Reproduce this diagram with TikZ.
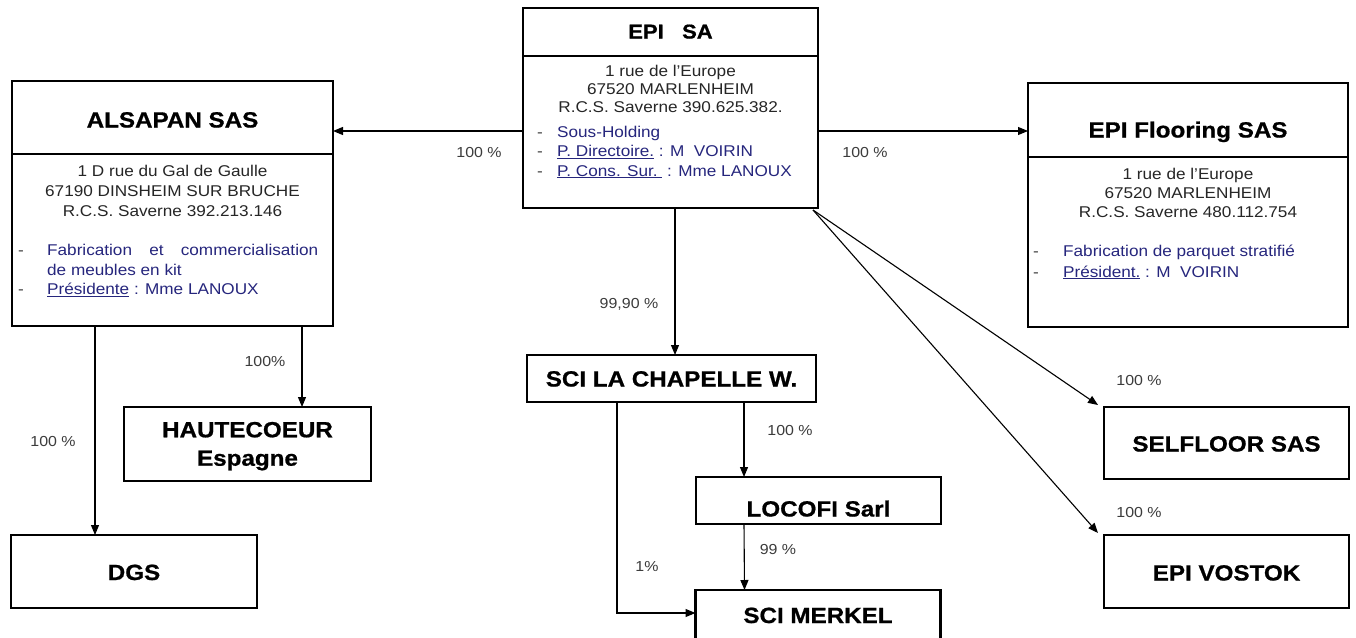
\documentclass[tikz,border=0pt]{standalone}
\usepackage{fontspec}
\setmainfont{Liberation Sans}[FakeStretch=1.1, BoldFeatures={FakeBold=0.8}]
\usetikzlibrary{arrows.meta,calc}
\definecolor{navy}{RGB}{38,38,125}
\definecolor{lab}{RGB}{60,60,60}
\newcommand\dsh[1]{\makebox[#1pt][l]{\textcolor{black!75}{-}}}
\begin{document}
\begin{tikzpicture}[x=1pt,y=-1pt,
  box/.style={draw=black, line width=2.5pt, outer sep=0pt, inner sep=0pt},
  ttl/.style={font=\fontsize{22}{28.4}\selectfont\bfseries, inner sep=0pt, anchor=base},
  addr/.style={font=\fontsize{15.6}{#1}\selectfont, align=center, inner sep=0pt, anchor=base, text=black!85},
  blt/.style={font=\fontsize{15.6}{#1}\selectfont, align=left, inner sep=0pt, anchor=base west, text=navy},
  lbl/.style={font=\fontsize{14.5}{16}\selectfont, text=lab, inner sep=0pt},
  arr/.style={line width=1.1pt, -{Triangle[length=10pt,width=8pt]}},
]
\fill[white] (0,0) rectangle (1356,637);
\useasboundingbox (0,0) rectangle (1356,637);

% boxes
\node[box, minimum width=295pt, minimum height=200pt] (episa) at (670.5,108) {};
\node[box, minimum width=321pt, minimum height=245pt] (alsapan) at (172.5,203.5) {};
\node[box, minimum width=320pt, minimum height=244pt] (flooring) at (1188,205) {};
\node[box, minimum width=289pt, minimum height=47pt] (chap) at (671.5,378.5) {};
\node[box, minimum width=245pt, minimum height=47pt] (locofi) at (818.5,500.5) {};
\node[box, minimum width=245pt, minimum height=50pt] (merkel) at (818,615) {};
\node[box, minimum width=247pt, minimum height=74pt] (haute) at (247.5,444) {};
\node[box, minimum width=246pt, minimum height=73pt] (dgs) at (134,571.5) {};
\node[box, minimum width=245pt, minimum height=72pt] (self) at (1226.5,443) {};
\node[box, minimum width=245pt, minimum height=73pt] (vostok) at (1226.5,571.5) {};

% dividers
\draw[line width=2.2pt] ($(episa.north west)+(0,48)$) -- ($(episa.north east)+(0,48)$);
\draw[line width=2.2pt] ($(alsapan.north west)+(0,73)$) -- ($(alsapan.north east)+(0,73)$);
\draw[line width=2.2pt] ($(flooring.north west)+(0,74)$) -- ($(flooring.north east)+(0,74)$);

% titles
\node[ttl, font=\fontsize{20}{24}\selectfont\bfseries] (t-episa) at (670.5,38.5) {EPI\ \ \ SA};
\node[ttl] (t-alsapan) at (172.5,127.5) {ALSAPAN SAS};
\node[ttl] (t-flooring) at (1188,137.5) {EPI Flooring SAS};
\node[ttl] (t-chap) at (671.5,386.5) {SCI LA CHAPELLE W.};
\node[ttl] (t-locofi) at (818.5,516.5) {LOCOFI Sarl};
\node[ttl] (t-merkel) at (818,623) {SCI MERKEL};
\node[ttl, align=center] (t-haute) at (247.5,465.7) {HAUTECOEUR\\Espagne};
\node[ttl] (t-dgs) at (134,580) {DGS};
\node[ttl] (t-self) at (1226.5,451.5) {SELFLOOR SAS};
\node[ttl] (t-vostok) at (1226.5,580.5) {EPI VOSTOK};

% body texts (anchor base = baseline of last line)
\node[addr=18] (a-episa) at (670.5,112) {1 rue de l'Europe\\67520 MARLENHEIM\\R.C.S. Saverne 390.625.382.};
\node[blt=19.5] (b-episa) at (537,176) {\dsh{20}Sous-Holding\\
  \dsh{20}\underline{P. Directoire.} : M\ \ VOIRIN\\
  \dsh{20}\underline{P. Cons. Sur.\ } : Mme LANOUX};

\node[addr=20] (a-alsapan) at (172.5,216) {1 D rue du Gal de Gaulle\\67190 DINSHEIM SUR BRUCHE\\R.C.S. Saverne 392.213.146};
\node[blt=19.5] (b-alsapan) at (18,294.5) {\dsh{29}\makebox[271pt][s]{Fabrication et commercialisation}\\
  \hspace*{29pt}de meubles en kit\\
  \dsh{29}\underline{Présidente} : Mme LANOUX};

\node[addr=19.2] (a-flooring) at (1188,217.7) {1 rue de l'Europe\\67520 MARLENHEIM\\R.C.S. Saverne 480.112.754};
\node[blt=21] (b-flooring) at (1033,277) {\dsh{30}Fabrication de parquet stratifié\\
  \dsh{30}\underline{Président.} : M\ \ VOIRIN};

% connectors
\draw[arr] ($(episa.west)+(0,23)$) -- ($(alsapan.east)+(0,-72.5)$);
\draw[arr] ($(episa.east)+(0,23)$) -- ($(flooring.west)+(0,-74)$);
\draw[arr] ($(episa.south west)+(152,0)$) -- ($(chap.north west)+(148,0)$);
\draw[arr] ($(chap.south west)+(217,0)$) -- ($(locofi.north west)+(48,0)$);
\draw[arr] ($(locofi.south west)+(48,0)$) -- ($(merkel.north west)+(49,0)$);
\draw[arr] ($(chap.south west)+(90,0)$) |- ($(merkel.west)+(0,-2)$);
\draw[arr] ($(alsapan.south west)+(83,0)$) -- ($(dgs.north west)+(84,0)$);
\draw[arr] ($(alsapan.south west)+(290,0)$) -- ($(haute.north west)+(178,0)$);
\draw[arr] ($(episa.south east)+(-5,2)$) -- ($(self.north west)+(-6,-2)$);
\draw[arr] ($(episa.south east)+(-5,2)$) -- ($(vostok.north west)+(-6,-2)$);

% labels
\node[lbl] (l1) at (479,153) {100 \%};
\node[lbl] (l2) at (865,153) {100 \%};
\node[lbl] (l3) at (629,304) {99,90 \%};
\node[lbl] (l4) at (790,431) {100 \%};
\node[lbl] (l5) at (778,549) {99 \%};
\node[lbl] (l6) at (647,567) {1\%};
\node[lbl] (l7) at (265,362) {100\%};
\node[lbl] (l8) at (53,442) {100 \%};
\node[lbl] (l9) at (1139,381) {100 \%};
\node[lbl] (l10) at (1139,512) {100 \%};
\end{tikzpicture}
\end{document}
